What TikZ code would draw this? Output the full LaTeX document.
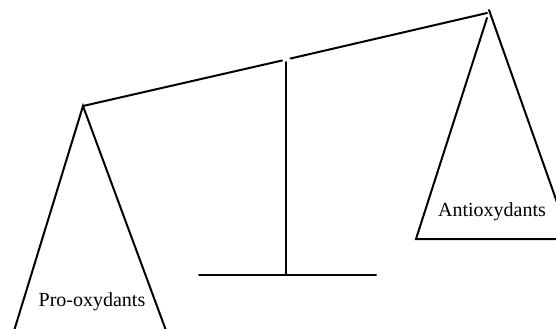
\documentclass[tikz,border=0pt]{standalone}
\usepackage{fontspec}
\setmainfont{Liberation Serif}
\usetikzlibrary{positioning}

\begin{document}
\begin{tikzpicture}[
      x=0.5pt, y=-0.5pt,
      bar/.style={line width=1pt, line cap=round},
      pan/.style={font=\fontsize{10}{12}\selectfont, inner sep=1pt}
  ]
    \useasboundingbox (0,0) rectangle (556,328);
    \clip (0,0) rectangle (556,328);

    % beam and stand
    \coordinate (lapex) at (83,106);
    \coordinate (gapl) at (282,60.5);
    \coordinate (gapr) at (290.5,58.5);
    \coordinate (rtip) at (487,13);
    \coordinate (ptop) at (286,62);
    \coordinate (pfoot) at (286,275);
    \coordinate (bl) at (199,275);
    \coordinate (br) at (376,275);

    \draw[bar] (lapex) -- (gapl);
    \draw[bar] (gapr) -- (rtip);
    \draw[bar] (ptop) -- (pfoot);
    \draw[bar] (bl) -- (br);

    % left pan
    \coordinate (ll) at (10,344);
    \coordinate (lr) at (171,344);
    \draw[bar] (ll) -- (lapex) -- (lr);
    \node[pan] (pro) at (92,302) {Pro-oxydants};

    % right pan
    \coordinate (rapex) at (489,10);
    \coordinate (rleft) at (487,18);
    \coordinate (rbl) at (416,239);
    \coordinate (rbr) at (570,239);
    \draw[bar] (rleft) -- (rbl) -- (rbr);
    \draw[bar] (rapex) -- (rbr);
    \node[pan] (anti) at (492,212) {Antioxydants};
  \end{tikzpicture}
\end{document}
